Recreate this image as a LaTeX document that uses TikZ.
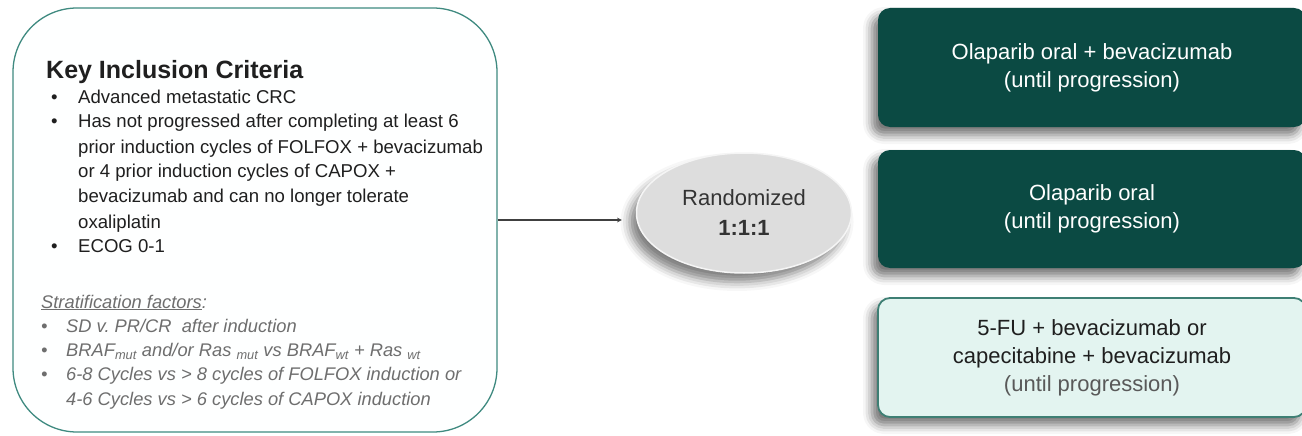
\documentclass[tikz,border=0pt]{standalone}
\usepackage{fontspec}
\setmainfont{Liberation Sans}
\usetikzlibrary{shapes.geometric,shadows.blur}
\definecolor{armdark}{HTML}{0B4A43}
\definecolor{armlight}{HTML}{E3F4F0}
\definecolor{armline}{HTML}{3E7F74}
\definecolor{inclline}{HTML}{3F8A80}
\definecolor{stratgray}{HTML}{6E6E6E}
\definecolor{randgray}{HTML}{DDDDDD}
\newcommand{\critem}[1]{\par\hangindent=32pt\hangafter=1\noindent\makebox[32pt][l]{\hspace{5pt}\textbullet}#1}
\newcommand{\stitem}[1]{\par\hangindent=25pt\hangafter=1\noindent\makebox[25pt][l]{\textbullet}#1}
\begin{document}
\begin{tikzpicture}[x=1pt,y=-1pt,
  armbox/.style={rounded corners=12pt,minimum width=428pt,align=center,
    font=\fontsize{22}{28}\selectfont,
    blur shadow={shadow xshift=-6pt,shadow yshift=-8pt,shadow blur radius=9pt,shadow opacity=55}}]
\useasboundingbox (0,0) rectangle (1302,436);
% left: inclusion box
\node[draw=inclline,line width=1.3pt,fill=white!97!armlight,rounded corners=64pt,
  minimum width=484pt,minimum height=424pt] (incl) at (255,220) {};
\node[anchor=base west,inner sep=0,text=black!88] (crit) at (46,78) {\parbox[t]{470pt}{\frenchspacing
  {\fontsize{25}{27}\selectfont\bfseries Key Inclusion Criteria}\par
  \fontsize{18.6}{25}\selectfont
  \critem{Advanced metastatic CRC}
  \critem{Has not progressed after completing at least 6\\prior induction cycles of FOLFOX + bevacizumab\\or 4 prior induction cycles of CAPOX +\\bevacizumab and can no longer tolerate\\oxaliplatin}
  \critem{ECOG 0-1}}};
\node[anchor=base west,inner sep=0,text=stratgray] (strat) at (41,308) {\parbox[t]{470pt}{\frenchspacing
  \fontsize{18.3}{24.3}\selectfont\itshape
  \underline{Stratification factors}:
  \stitem{SD v. PR/CR\ \ after induction}
  \stitem{BRAF\textsubscript{mut} and/or Ras \textsubscript{mut} vs BRAF\textsubscript{wt} + Ras \textsubscript{wt}}
  \stitem{6-8 Cycles vs > 8 cycles of FOLFOX induction or\\4-6 Cycles vs > 6 cycles of CAPOX induction}}};
% middle: randomization
\node[ellipse,fill=randgray,draw=white!92!gray,line width=1.5pt,minimum width=215pt,minimum height=120pt,
  inner sep=0,align=center,text=black!80,font=\fontsize{22}{30}\selectfont,
  blur shadow={shadow xshift=-7pt,shadow yshift=-9pt,shadow blur radius=9pt,shadow opacity=50}]
  (rand) at (744,213) {Randomized\\\textbf{1:1:1}};
\draw[-stealth,line width=1.1pt,black!75,shorten >=14pt] (incl.east) -- (incl.east -| rand.west);
% right: treatment arms
\node[armbox,fill=armdark,text=white,minimum height=119pt] (armA) at (1092,67.5)
  {Olaparib oral + bevacizumab\\(until progression)};
\node[armbox,fill=armdark,text=white,minimum height=118pt] (armB) at (1092,209)
  {Olaparib oral\\(until progression)};
\node[armbox,fill=armlight,draw=armline,line width=1.8pt,text=black!88,minimum height=119pt] (armC) at (1092,357.5)
  {5-FU + bevacizumab or\\capecitabine + bevacizumab\\\textcolor{black!65}{(until progression)}};
\end{tikzpicture}
\end{document}
